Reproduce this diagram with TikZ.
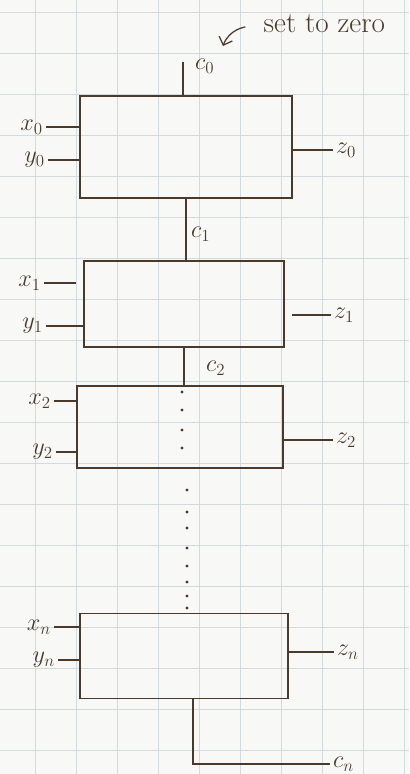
\documentclass[tikz,border=0pt]{standalone}
\usepackage{xcolor}
\usepackage{tikz}
\usetikzlibrary{
  positioning, arrows.meta, calc
}
\definecolor{inkBrown}{HTML}{4A3A2C}
\definecolor{gridBlue}{HTML}{D2D9DF}
\definecolor{paperWhite}{HTML}{F8F8F6}

\begin{document}
\begin{tikzpicture}[
  x=0.025cm, y=-0.025cm,
  every node/.style={text=inkBrown},
  adder/.style={
    rectangle, draw=inkBrown, line width=1.1pt,
    inner sep=0pt
  },
  wire/.style={draw=inkBrown, line width=1.1pt},
  loose/.style={shorten >=5pt},
  lbl/.style={font=\LARGE, inner sep=2pt},
  note/.style={font=\huge, inner sep=1pt},
  gridline/.style={draw=gridBlue, line width=0.6pt},
]
\useasboundingbox (0,0) rectangle (409,774);
\fill[paperWhite] (0,0) rectangle (409,774);

% === GRID PAPER ===
\foreach \gx in {35,76,...,409} {
  \draw[gridline] (\gx,0) -- (\gx,774);
}
\foreach \gy in {12,53,...,774} {
  \draw[gridline] (0,\gy) -- (409,\gy);
}

% === ADDER STAGES ===
\node[adder, minimum width=5.3cm, minimum height=2.55cm] (b0) at (186,147) {};
\node[adder, minimum width=5.0cm, minimum height=2.15cm] (b1) at (184,304) {};
\node[adder, minimum width=5.15cm, minimum height=2.05cm] (b2) at (180,427) {};
\node[adder, minimum width=5.2cm, minimum height=2.125cm] (bn) at (184,656) {};

% Carry in
\coordinate (c0in) at (183,62);
\draw[wire] (c0in) -- (c0in |- b0.north);
\node[lbl, anchor=west] (c0) at (192,66) {$c_0$};
\node[note, anchor=west] (setzero) at (262,24) {set to zero};
\coordinate (zerotip) at (223,46);
\draw[wire, line width=0.9pt, shorten <=12pt, -{Straight Barb[length=5pt]}]
  (setzero.west) to[out=190, in=70] (zerotip);

% Stage 0
\node[lbl, anchor=east] (x0) at (46,127) {$x_0$};
\node[lbl, anchor=east] (y0) at (48,160) {$y_0$};
\node[lbl, anchor=west] (z0) at (333,150) {$z_0$};
\draw[wire] (x0) -- (x0 -| b0.west);
\draw[wire] (y0) -- (y0 -| b0.west);
\draw[wire] (z0) -- (z0 -| b0.east);

% Carry 1
\draw[wire] (b0.south) -- (b0.south |- b1.north);
\node[lbl, anchor=west] (c1) at (188,234) {$c_1$};

% Stage 1
\node[lbl, anchor=east] (x1) at (44,283) {$x_1$};
\node[lbl, anchor=east] (y1) at (46,326) {$y_1$};
\node[lbl, anchor=west] (z1) at (331,315) {$z_1$};
\draw[wire, loose] (x1) -- (x1 -| b1.west);
\draw[wire] (y1) -- (y1 -| b1.west);
\draw[wire, loose] (z1) -- (z1 -| b1.east);

% Carry 2
\draw[wire] (b1.south) -- (b1.south |- b2.north);
\node[lbl, anchor=west] (c2) at (203,368) {$c_2$};

% Stage 2
\node[lbl, anchor=east] (x2) at (54,401) {$x_2$};
\node[lbl, anchor=east] (y2) at (56,452) {$y_2$};
\node[lbl, anchor=west] (z2) at (333,440) {$z_2$};
\draw[wire] (x2) -- (x2 -| b2.west);
\draw[wire] (y2) -- (y2 -| b2.west);
\draw[wire] (z2) -- (z2 -| b2.east);

% Dots down to the last stage
\foreach \dy in {392,410,430,448} {
  \fill[inkBrown] (182,\dy) circle (1.1pt);
}
\foreach \dy in {490,512,528,548,566,582,596,608} {
  \fill[inkBrown] (187,\dy) circle (1.1pt);
}

% Stage n
\node[lbl, anchor=east] (xn) at (54,627) {$x_n$};
\node[lbl, anchor=east] (yn) at (58,660) {$y_n$};
\node[lbl, anchor=west] (zn) at (334,652) {$z_n$};
\draw[wire] (xn) -- (xn -| bn.west);
\draw[wire] (yn) -- (yn -| bn.west);
\draw[wire] (zn) -- (zn -| bn.east);

% Carry out
\node[lbl, anchor=west] (cn) at (330,764) {$c_n$};
\draw[wire] ($(bn.south)+(9,0)$) |- (cn.west);

\end{tikzpicture}
\end{document}
